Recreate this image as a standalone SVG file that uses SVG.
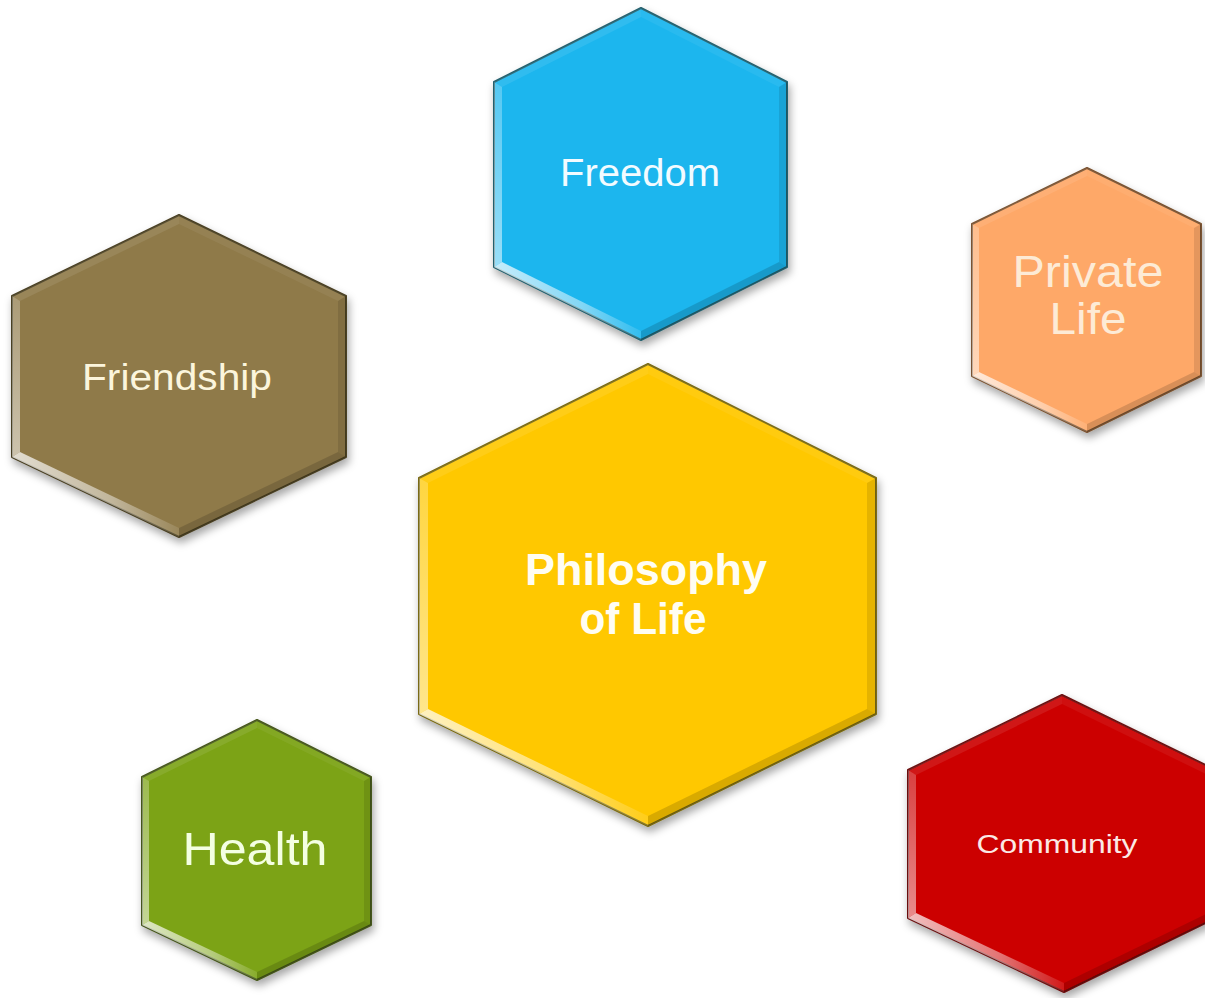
<svg xmlns="http://www.w3.org/2000/svg" width="1205" height="998" viewBox="0 0 1205 998">
<defs>
<filter id="ds" x="-10%" y="-10%" width="120%" height="125%">
<feDropShadow dx="2" dy="5" stdDeviation="4" flood-color="#000" flood-opacity="0.35"/>
</filter>
<linearGradient id="shineBL" x1="0" y1="0" x2="1" y2="0">
<stop offset="0" stop-color="#fff" stop-opacity="0.75"/>
<stop offset="0.6" stop-color="#fff" stop-opacity="0.45"/>
<stop offset="1" stop-color="#fff" stop-opacity="0.1"/>
</linearGradient>
<linearGradient id="shineL" x1="0" y1="1" x2="0" y2="0">
<stop offset="0" stop-color="#fff" stop-opacity="0.55"/>
<stop offset="1" stop-color="#fff" stop-opacity="0.25"/>
</linearGradient>
</defs>
<style>
.base{stroke-width:2;stroke-linejoin:round;filter:url(#ds)}
.tl{fill:#fff;fill-opacity:0.09}
.tr{fill:#fff;fill-opacity:0.06}
.rt{fill:#000;fill-opacity:0.1}
.br{fill:#000;fill-opacity:0.15}
.bl{fill:url(#shineBL)}
.lf{fill:url(#shineL)}
.lbl{font-family:"Liberation Sans",Arial,sans-serif;text-anchor:middle}
.bold{font-weight:bold}
</style>
<rect width="1205" height="998" fill="#fff"/>

<g id="connectors"></g>

<g id="freedom">
<polygon class="base" points="641,8 787,82 787,267 641,340 494,267 494,82" fill="#1BB6EE" stroke="#23606E"/>
<polygon class="tl" points="641,8 641,17 502,87 494,82"/>
<polygon class="tr" points="641,8 787,82 779,87 641,17"/>
<polygon class="rt" points="787,82 787,267 779,262 779,87"/>
<polygon class="br" points="787,267 641,340 641,331 779,262"/>
<polygon class="bl" points="641,340 494,267 502,262 641,331"/>
<polygon class="lf" points="494,267 494,82 502,87 502,262"/>
<text class="lbl" x="640" y="186" font-size="38" fill="#F2FBFF" textLength="160" lengthAdjust="spacingAndGlyphs">Freedom</text>
</g>

<g id="private-life">
<polygon class="base" points="1087,168 1201,224 1201,376 1087,432 972,376 972,224" fill="#FEA867" stroke="#7A5230"/>
<polygon class="tl" points="1087,168 1087,176 979,228 972,224"/>
<polygon class="tr" points="1087,168 1201,224 1194,228 1087,176"/>
<polygon class="rt" points="1201,224 1201,376 1194,372 1194,228"/>
<polygon class="br" points="1201,376 1087,432 1087,424 1194,372"/>
<polygon class="bl" points="1087,432 972,376 979,372 1087,424"/>
<polygon class="lf" points="972,376 972,224 979,228 979,372"/>
<text class="lbl" x="1088" y="287" font-size="44" fill="#FDEBD6" textLength="151" lengthAdjust="spacingAndGlyphs">Private</text>
<text class="lbl" x="1088" y="334" font-size="44" fill="#FDEBD6" textLength="77" lengthAdjust="spacingAndGlyphs">Life</text>
</g>

<g id="friendship">
<polygon class="base" points="179,215 346,296 346,457 179,537 12,457 12,296" fill="#8F7A48" stroke="#4A3F22"/>
<polygon class="tl" points="179,215 179,224 20,301 12,296"/>
<polygon class="tr" points="179,215 346,296 338,301 179,224"/>
<polygon class="rt" points="346,296 346,457 338,452 338,301"/>
<polygon class="br" points="346,457 179,537 179,528 338,452"/>
<polygon class="bl" points="179,537 12,457 20,452 179,528"/>
<polygon class="lf" points="12,457 12,296 20,301 20,452"/>
<text class="lbl" x="177" y="390" font-size="36" fill="#FBF5DC" textLength="190" lengthAdjust="spacingAndGlyphs">Friendship</text>
</g>

<g id="philosophy">
<polygon class="base" points="648,364 876,478 876,714 648,826 419,714 419,478" fill="#FFC800" stroke="#7A6A12"/>
<polygon class="tl" points="648,364 648,374 428,483 419,478"/>
<polygon class="tr" points="648,364 876,478 867,483 648,374"/>
<polygon class="rt" points="876,478 876,714 867,709 867,483"/>
<polygon class="br" points="876,714 648,826 648,816 867,709"/>
<polygon class="bl" points="648,826 419,714 428,709 648,816"/>
<polygon class="lf" points="419,714 419,478 428,483 428,709"/>
<text class="lbl bold" x="646" y="585" font-size="44" fill="#FFFDF2" textLength="242" lengthAdjust="spacingAndGlyphs">Philosophy</text>
<text class="lbl bold" x="643" y="634" font-size="44" fill="#FFFDF2" textLength="127" lengthAdjust="spacingAndGlyphs">of Life</text>
</g>

<g id="health">
<polygon class="base" points="257,720 371,777 371,925 257,980 142,925 142,777" fill="#7BA314" stroke="#45561A"/>
<polygon class="tl" points="257,720 257,728 149,781 142,777"/>
<polygon class="tr" points="257,720 371,777 364,781 257,728"/>
<polygon class="rt" points="371,777 371,925 364,921 364,781"/>
<polygon class="br" points="371,925 257,980 257,972 364,921"/>
<polygon class="bl" points="257,980 142,925 149,921 257,972"/>
<polygon class="lf" points="142,925 142,777 149,781 149,921"/>
<text class="lbl" x="255" y="865" font-size="46" fill="#F4FFE2" textLength="145" lengthAdjust="spacingAndGlyphs">Health</text>
</g>

<g id="community">
<polygon class="base" points="1062,695 1216,770 1216,918 1064,992 908,918 908,770" fill="#CC0000" stroke="#6A0C0C"/>
<polygon class="tl" points="1062,695 1062,704 916,775 908,770"/>
<polygon class="tr" points="1062,695 1216,770 1208,775 1062,704"/>
<polygon class="rt" points="1216,770 1216,918 1208,913 1208,775"/>
<polygon class="br" points="1216,918 1064,992 1064,983 1208,913"/>
<polygon class="bl" points="1064,992 908,918 916,913 1064,983"/>
<polygon class="lf" points="908,918 908,770 916,775 916,913"/>
<text class="lbl" x="1057" y="853" font-size="25" fill="#FBE9E6" textLength="161" lengthAdjust="spacingAndGlyphs">Community</text>
</g>
</svg>
